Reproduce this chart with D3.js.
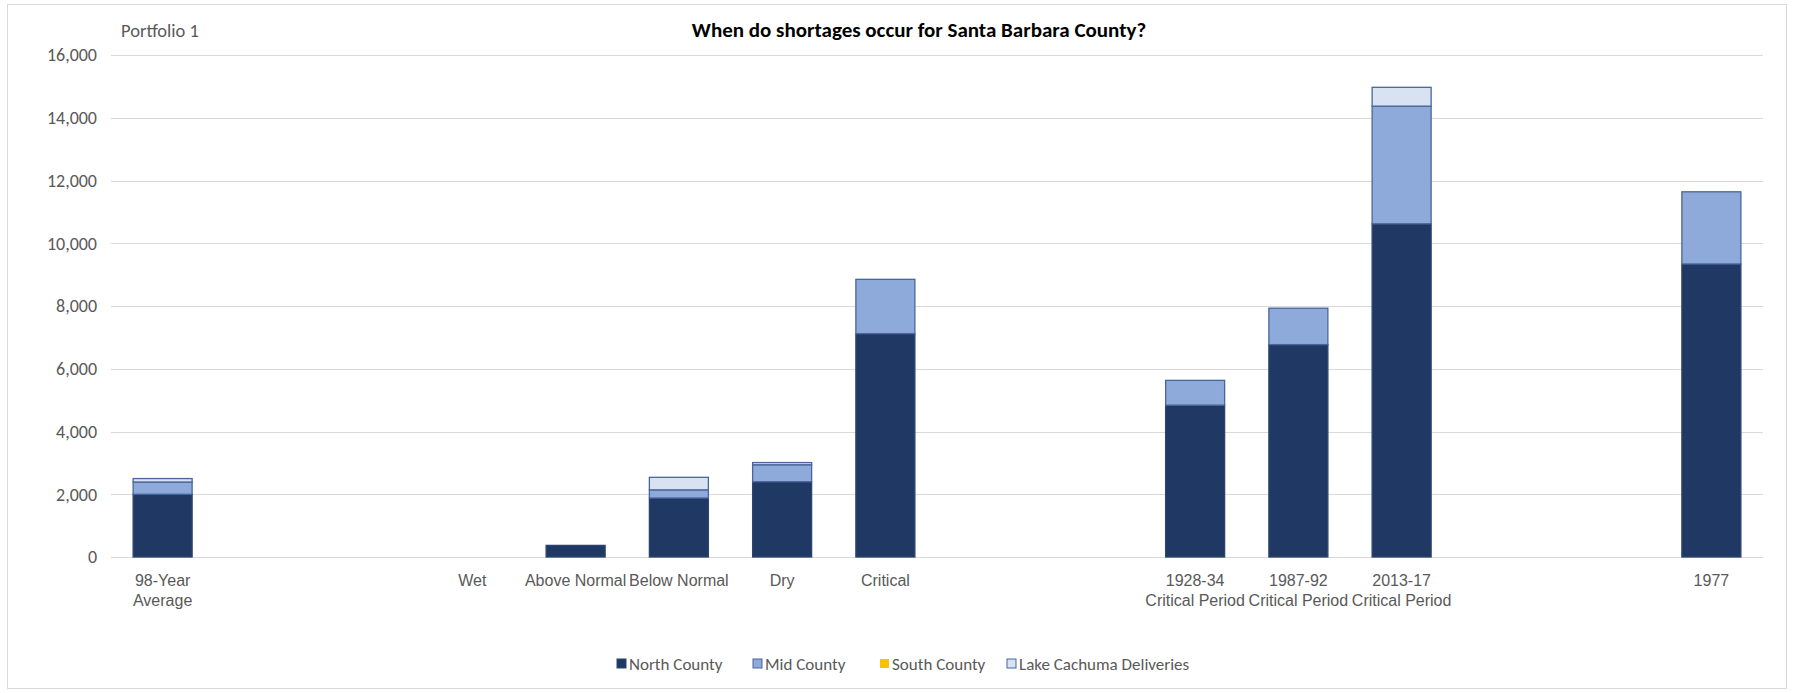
<!DOCTYPE html>
<html>
<head>
<meta charset="utf-8">
<script src="https://cdn.jsdelivr.net/npm/d3@7"></script>
<style>
  html, body { margin: 0; padding: 0; background: #fff; }
  svg { display: block; font-family: Carlito, Lato, "Open Sans", sans-serif; }
</style>
</head>
<body>
<svg id="chart" width="1801" height="693"></svg>
<script>
// ---- data ----
const categories = ["98-Year\nAverage", "", "", "Wet", "Above Normal", "Below Normal", "Dry", "Critical",
  "", "", "1928-34\nCritical Period", "1987-92\nCritical Period", "2013-17\nCritical Period", "", "", "1977"];
const northCounty = [2000, 0, 0, 0, 370, 1880, 2400, 7120, 0, 0, 4840, 6770, 10620, 0, 0, 9340];
const midCounty   = [390, 0, 0, 0, 0, 260, 540, 1730, 0, 0, 790, 1160, 3750, 0, 0, 2300];
const southCounty = [0, 0, 0, 0, 0, 0, 0, 0, 0, 0, 0, 0, 0, 0, 0, 0];
const lakeCachuma = [110, 0, 0, 0, 0, 400, 70, 0, 0, 0, 0, 0, 600, 0, 0, 0];
const seriesNames = ["North County", "Mid County", "South County", "Lake Cachuma Deliveries"];
const yTicks = [0, 2000, 4000, 6000, 8000, 10000, 12000, 14000, 16000];
const titleText = "When do shortages occur for Santa Barbara County?";
const subtitleText = "Portfolio 1";

// ---- styles ----
const colors = ["#1F3864", "#8EAADB", "#FFC000", "#D9E2F3"];
const strokes = ["#2c4470", "#4a6699", "#FFC000", "#4a6699"];
const textGray = "#595959";

const svg = d3.select("#chart");
const plot = { left: 111, right: 1763, top: 55, bottom: 557 };

// outer frame
svg.append("rect").attr("x", 7.5).attr("y", 4.5).attr("width", 1779).attr("height", 684)
  .attr("fill", "#fff").attr("stroke", "#D9D9D9").attr("stroke-width", 1);

const table = categories.map((c, i) => ({
  idx: String(i), label: c,
  "North County": northCounty[i], "Mid County": midCounty[i],
  "South County": southCounty[i], "Lake Cachuma Deliveries": lakeCachuma[i]
}));

const x = d3.scaleBand().domain(table.map(d => d.idx))
  .range([plot.left, plot.right]).paddingInner(0.4286).paddingOuter(0.2143);
const y = d3.scaleLinear().domain([0, 16000]).range([plot.bottom, plot.top]);

// gridlines
svg.append("g").selectAll("line").data(yTicks).join("line")
  .attr("x1", plot.left).attr("x2", plot.right)
  .attr("y1", d => Math.round(y(d)) + 0.5).attr("y2", d => Math.round(y(d)) + 0.5)
  .attr("stroke", "#D9D9D9").attr("stroke-width", 1);

// y axis
const yAxis = svg.append("g").attr("transform", `translate(${plot.left - 14},0)`)
  .call(d3.axisLeft(y).tickValues(yTicks).tickSize(0).tickPadding(0).tickFormat(d3.format(",")));
yAxis.select(".domain").remove();
yAxis.selectAll("text").attr("fill", textGray).attr("font-size", 18).attr("font-family", "Carlito, Lato, sans-serif");

// stacks
const stack = d3.stack().keys(seriesNames);
const stacked = stack(table);
const layers = svg.append("g").selectAll("g").data(stacked).join("g")
  .attr("fill", (d, i) => colors[i]).attr("stroke", (d, i) => strokes[i]);
layers.selectAll("rect").data(d => d.filter(p => p[1] - p[0] > 0)).join("rect")
  .attr("x", d => x(d.data.idx))
  .attr("width", x.bandwidth())
  .attr("y", d => y(d[1]))
  .attr("height", d => y(d[0]) - y(d[1]))
  .attr("stroke-width", 1.3);

// x axis
const xAxis = svg.append("g").attr("transform", `translate(0,${plot.bottom})`)
  .call(d3.axisBottom(x).tickSize(0).tickPadding(0).tickFormat(""));
xAxis.select(".domain").remove();
xAxis.selectAll(".tick").each(function(d, i) {
  const lines = table[i].label.split("\n");
  const t = d3.select(this).append("text").attr("fill", textGray).attr("font-size", 16)
    .attr("text-anchor", "middle");
  lines.forEach((ln, k) => {
    t.append("tspan").attr("x", 0).attr("y", 29 + k * 20).text(ln);
  });
});

// title & subtitle
svg.append("text").attr("x", 919).attr("y", 37).attr("text-anchor", "middle")
  .attr("font-size", 21).attr("font-weight", "bold").attr("fill", "#000").text(titleText);
svg.append("text").attr("x", 121).attr("y", 37).attr("font-size", 18.5)
  .attr("fill", textGray).text(subtitleText);

// legend
const legendX = [617, 753, 880, 1007];
const lg = svg.append("g").selectAll("g").data(seriesNames).join("g")
  .attr("transform", (d, i) => `translate(${legendX[i]},664)`);
lg.append("rect").attr("x", 0).attr("y", -5).attr("width", 9).attr("height", 9)
  .attr("fill", (d, i) => colors[i]).attr("stroke", (d, i) => i === 2 ? "none" : strokes[i]).attr("stroke-width", 1);
lg.append("text").attr("x", 12).attr("y", 5.5).attr("font-size", 17).attr("fill", textGray).text(d => d);
</script>
</body>
</html>
